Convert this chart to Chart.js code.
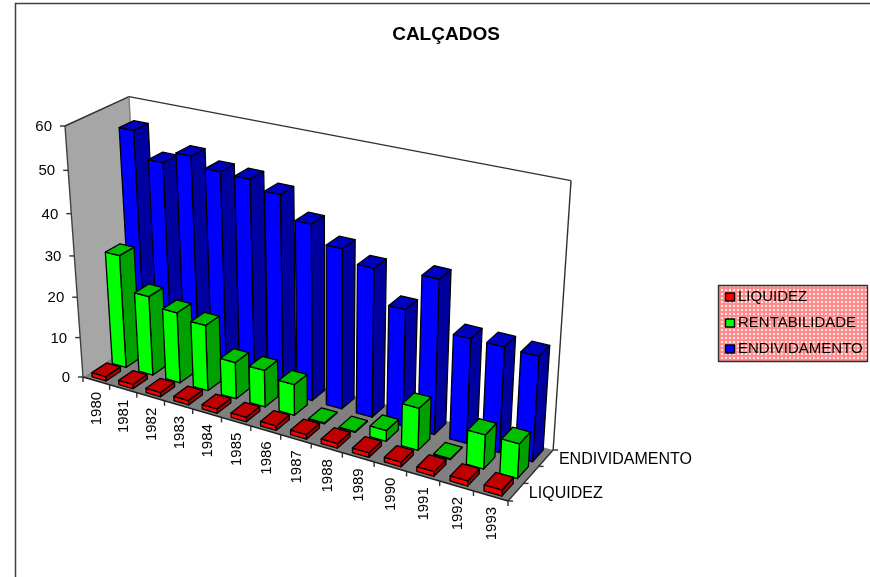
<!DOCTYPE html>
<html>
<head>
<meta charset="utf-8">
<title>CALÇADOS</title>
<script src="https://cdn.jsdelivr.net/npm/chart.js@4"></script>
<style>
  html, body { margin: 0; background: #fff; }
  canvas { display: block; }
</style>
</head>
<body>
<canvas id="chart" width="870" height="577"></canvas>
<script>
const years = ['1980','1981','1982','1983','1984','1985','1986','1987','1988','1989','1990','1991','1992','1993'];
const liquidez = [1.1,1.1,1.1,1.1,1.1,1.1,1.1,1.1,1.1,1.1,1.1,1.1,1.2,1.4];
const rentabilidade = [28,19.7,17.5,16.2,9,9,7.5,0.2,0.2,2.6,10,0.2,8,8.1];
const endividamento = [55,48.9,51.8,49.6,49.3,47.3,42.1,38.1,35.3,27.6,36.2,24.6,24.6,24.4];
const yTicks = [0,10,20,30,40,50,60];
const seriesNames = ['LIQUIDEZ','RENTABILIDADE','ENDIVIDAMENTO'];
const seriesFaces = [
  { front: '#ff0000', top: '#c00000', side: '#a00000' },
  { front: '#00ff00', top: '#00c000', side: '#00a000' },
  { front: '#0000ff', top: '#0000c0', side: '#0000a0' }
];

// 3D box corners on the page, and the perspective terms for each axis
const O = { x: 83, y: 377 };    // front left floor
const U = { x: 508, y: 501 };   // front right floor
const V = { x: 65, y: 126 };    // front left top
const W = { x: 142, y: 338 };   // back left floor
const persp = { u: -0.13, v: -0.068, w: 0.048 };

function project(u, v, w) {
  const d = 1 + persp.u * u + persp.v * v + persp.w * w;
  const coord = k => (O[k]
    + u * (U[k] * (1 + persp.u) - O[k])
    + v * (V[k] * (1 + persp.v) - O[k])
    + w * (W[k] * (1 + persp.w) - O[k])) / d;
  return { x: coord('x'), y: coord('y') };
}

function poly(ctx, pts, fill, stroke) {
  ctx.beginPath();
  pts.forEach((p, i) => i ? ctx.lineTo(p.x, p.y) : ctx.moveTo(p.x, p.y));
  ctx.closePath();
  if (fill) { ctx.fillStyle = fill; ctx.fill(); }
  if (stroke) { ctx.strokeStyle = stroke; ctx.lineWidth = 1.3; ctx.lineJoin = 'round'; ctx.stroke(); }
}

function line(ctx, a, b, color, width) {
  ctx.beginPath();
  ctx.moveTo(a.x, a.y);
  ctx.lineTo(b.x, b.y);
  ctx.strokeStyle = color;
  ctx.lineWidth = width || 1.4;
  ctx.stroke();
}

// Bars are placed by the normal bar controller, then drawn as boxes
class Bar3DController extends Chart.BarController {
  draw() {
    const ctx = this.chart.ctx;
    const area = this.chart.chartArea;
    const meta = this.getMeta();
    const row = this.index;
    const faces = seriesFaces[row];
    const rows = seriesNames.length;
    const depth = 0.24;
    const w0 = (row + 0.5) / rows - depth / 2;
    const w1 = w0 + depth;
    meta.data.forEach(bar => {
      const u0 = (bar.x - bar.width / 2 - area.left) / area.width;
      const u1 = (bar.x + bar.width / 2 - area.left) / area.width;
      const v = (area.bottom - bar.y) / area.height;
      const a = project(u0, 0, w0), b = project(u1, 0, w0), c = project(u1, 0, w1);
      const d = project(u0, v, w0), e = project(u1, v, w0), f = project(u1, v, w1), g = project(u0, v, w1);
      poly(ctx, [b, c, f, e], faces.side, '#000');
      poly(ctx, [a, b, e, d], faces.front, '#000');
      poly(ctx, [d, e, f, g], faces.top, '#000');
    });
  }
}
Bar3DController.id = 'bar3d';
Bar3DController.defaults = Chart.BarController.defaults;
Chart.register(Bar3DController);

function legendPattern(ctx) {
  const tile = document.createElement('canvas');
  tile.width = 4;
  tile.height = 4;
  const t = tile.getContext('2d');
  t.fillStyle = '#ff8c8c';
  t.fillRect(0, 0, 4, 4);
  t.fillStyle = '#ffe6e6';
  t.fillRect(1, 1, 2, 2);
  return ctx.createPattern(tile, 'repeat');
}

const boxPlugin = {
  id: 'box',
  beforeDraw(chart) {
    const ctx = chart.ctx;
    ctx.save();
    ctx.strokeStyle = '#404040';
    ctx.lineWidth = 1.5;
    ctx.beginPath();
    ctx.moveTo(15.5, 577);
    ctx.lineTo(15.5, 3.5);
    ctx.lineTo(870, 3.5);
    ctx.stroke();
    ctx.restore();
  },
  beforeDatasetsDraw(chart) {
    const ctx = chart.ctx;
    ctx.save();
    const flb = project(0, 0, 0), frb = project(1, 0, 0), brb = project(1, 0, 1), blb = project(0, 0, 1);
    const flt = project(0, 1, 0), blt = project(0, 1, 1), brt = project(1, 1, 1);
    poly(ctx, [blb, brb, brt, blt], '#ffffff');
    poly(ctx, [flb, blb, blt, flt], '#a6a6a6');
    poly(ctx, [flb, frb, brb, blb], '#808080');
    line(ctx, flt, flb, '#404040');
    line(ctx, flt, blt, '#303030');
    line(ctx, blt, blb, '#808080');
    line(ctx, blt, brt, '#303030');
    line(ctx, brt, brb, '#303030');
    line(ctx, flb, frb, '#202020');
    line(ctx, frb, brb, '#303030');
    ctx.restore();
  },
  afterDatasetsDraw(chart) {
    const ctx = chart.ctx;
    const yScale = chart.scales.y;
    const area = chart.chartArea;
    const font = '15px "Liberation Sans", Arial, sans-serif';
    ctx.save();
    ctx.fillStyle = '#000';
    ctx.font = font;

    // value axis
    ctx.textAlign = 'right';
    ctx.textBaseline = 'middle';
    yTicks.forEach(t => {
      const v = (area.bottom - yScale.getPixelForValue(t)) / area.height;
      const p = project(0, v, 0);
      line(ctx, p, { x: p.x - 5, y: p.y }, '#303030');
      ctx.fillText(String(t), p.x - 13, p.y + 1);
    });

    // category axis
    const n = years.length;
    for (let i = 0; i <= n; i++) {
      const p = project(i / n, 0, 0);
      line(ctx, p, { x: p.x, y: p.y + 5 }, '#303030');
    }
    years.forEach((year, i) => {
      const p = project((i + 0.5) / n, 0, 0);
      ctx.save();
      ctx.translate(p.x + 1, p.y + 11);
      ctx.rotate(-Math.PI / 2);
      ctx.textAlign = 'right';
      ctx.textBaseline = 'middle';
      ctx.fillText(year, 0, 0);
      ctx.restore();
    });

    // series axis, every other name as in the original
    const rows = seriesNames.length;
    for (let r = 0; r <= rows; r++) {
      const p = project(1, 0, r / rows);
      line(ctx, p, { x: p.x + 5, y: p.y }, '#303030');
    }
    ctx.textAlign = 'left';
    ctx.font = '16px "Liberation Sans", Arial, sans-serif';
    seriesNames.forEach((name, r) => {
      if (r % 2) return;
      const p = project(1, 0, (r + 0.5) / rows);
      ctx.fillText(name, p.x + 13, p.y + 1);
    });

    // legend box
    const lx = 718, ly = 285, lw = 150, lh = 77;
    ctx.fillStyle = legendPattern(ctx);
    ctx.fillRect(lx, ly, lw, lh);
    ctx.strokeStyle = '#303030';
    ctx.lineWidth = 1.4;
    ctx.strokeRect(lx + 0.5, ly + 0.5, lw - 1, lh - 1);
    ctx.font = font;
    seriesNames.forEach((name, r) => {
      const y = ly + 12 + r * 26;
      ctx.fillStyle = seriesFaces[r].front;
      ctx.fillRect(lx + 7.5, y - 4, 9, 8);
      ctx.strokeStyle = '#000';
      ctx.strokeRect(lx + 7.5, y - 4, 9, 8);
      ctx.fillStyle = '#000';
      ctx.fillText(name, lx + 20, y);
    });
    ctx.restore();
  }
};

const seriesValues = [liquidez, rentabilidade, endividamento];

new Chart(document.getElementById('chart'), {
  type: 'bar3d',
  data: {
    labels: years,
    datasets: seriesNames.map((name, r) => ({
      label: name,
      data: seriesValues[r],
      backgroundColor: seriesFaces[r].front,
      grouped: false,
      clip: false,
      barPercentage: 0.52,
      categoryPercentage: 1
    }))
  },
  options: {
    responsive: false,
    animation: false,
    layout: { padding: { left: 22 } },
    scales: {
      x: { display: false, type: 'category' },
      y: { display: false, min: 0, max: 60, ticks: { stepSize: 10 } }
    },
    plugins: {
      legend: { display: false },
      tooltip: { enabled: false },
      title: {
        display: true,
        text: 'CALÇADOS',
        color: '#000',
        font: { family: '"Liberation Sans", Arial, sans-serif', size: 19, weight: 'bold' },
        padding: { top: 23, bottom: 10 }
      }
    }
  },
  plugins: [boxPlugin]
});
</script>
</body>
</html>
